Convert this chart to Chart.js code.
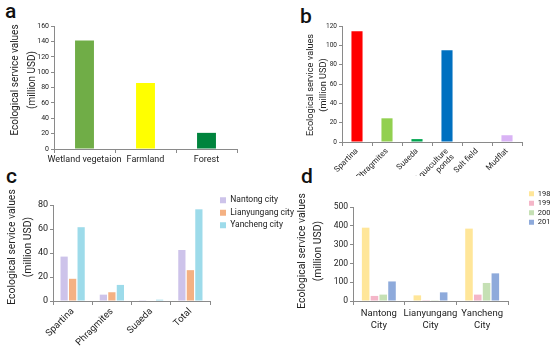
<!DOCTYPE html>
<html>
<head>
<meta charset="utf-8">
<script src="https://cdn.jsdelivr.net/npm/chart.js@4.4.0/dist/chart.umd.min.js"></script>
<style>
    body { margin: 0; background: #fff; width: 550px; height: 352px; overflow: hidden; position: relative; }
    canvas { position: absolute; }
    .tag { position: absolute; font: 500 21px Roboto, sans-serif; line-height: 21px; color: #111; }
    .ytitle {
        position: absolute; width: 160px; text-align: center; color: #222;
        font-family: Roboto, sans-serif; white-space: nowrap;
        transform: rotate(-90deg); transform-origin: 50% 50%;
    }
</style>
</head>
<body>
<div class="tag" style="left:5px;top:1px">a</div>
<div class="tag" style="left:300px;top:6px">b</div>
<div class="tag" style="left:6px;top:166px">c</div>
<div class="tag" style="left:301px;top:166px">d</div>

<canvas id="chartA" width="275" height="176" style="left:0;top:0"></canvas>
<canvas id="chartB" width="275" height="200" style="left:275px;top:0"></canvas>
<canvas id="chartC" width="300" height="176" style="left:0;top:176px"></canvas>
<canvas id="chartD" width="275" height="176" style="left:275px;top:176px"></canvas>

<!-- y axis titles: box is 160 wide, centred on the wanted point -->
<div class="ytitle" style="left:-57.5px;top:63px;font-size:10px;line-height:17px">Ecological service values<br>(million USD)</div>
<div class="ytitle" style="left:235.5px;top:72px;font-size:9.2px;line-height:13px">Ecological service values<br>(million USD)</div>
<div class="ytitle" style="left:-60px;top:230.5px;font-size:10.4px;line-height:16px">Ecological service values<br>(million USD)</div>
<div class="ytitle" style="left:230px;top:234.5px;font-size:10.4px;line-height:16px">Ecological service values<br>(million USD)</div>

<script>
// a - land use types
const landLabels = ["Wetland vegetaion", "Farmland", "Forest"];
const landValues = [141, 86, 21];
const landColors = ["#70ad47", "#ffff00", "#00843d"];

// b - wetland types
const typeLabels = ["Spartina", "Phragmites", "Suaeda", ["Aquaculture", "ponds"], "Salt field", "Mudflat"];
const typeValues = [114.5, 24.5, 3, 95, 0, 7];
const typeColors = ["#ff0000", "#92d050", "#00a550", "#0070c0", "#a6a6a6", "#d9b3f5"];

// c - vegetation by city
const vegLabels = ["Spartina", "Phragmites", "Suaeda", "Total"];
const cityNames = ["Nantong city", "Lianyungang city", "Yancheng city"];
const nantongVeg = [37, 5.3, 0.2, 42.5];
const lianyungangVeg = [18.5, 7.3, 0.4, 25.7];
const yanchengVeg = [61.5, 13.4, 1.1, 76.4];
const cityColors = ["#cdc3ea", "#f4b183", "#9ddbea"];

// d - cities through the years
const cityLabels = [["Nantong", "City"], ["Lianyungang", "City"], ["Yancheng", "City"]];
const years = ["1987", "1997", "2006", "2018"];
const esv1987 = [390, 30, 385];
const esv1997 = [27, 1, 34];
const esv2006 = [34, 4, 96];
const esv2018 = [104, 46, 147];
const yearColors = ["#ffe699", "#f4b6c8", "#c5e0b4", "#8eaadb"];

const AXIS = "#8a8a8a";
const TXT = "#222";
const FONT = "Roboto, sans-serif";

// legend takes no room, we put it where we want it
const placeLegend = {
    id: "placeLegend",
    beforeInit(chart, args, opts) {
        if (!chart.legend || opts.left == null) return;
        const lg = chart.legend;
        const fit = lg.fit;
        lg.fit = function () { fit.call(this); this.width = 0; };
    },
    afterLayout(chart, args, opts) {
        if (!chart.legend || opts.left == null) return;
        const lg = chart.legend;
        lg.left = opts.left;
        lg.top = opts.top;
        lg.right = chart.width;
        lg.bottom = chart.height;
        lg.width = lg.right - lg.left;
        lg.height = lg.bottom - lg.top;
    }
};

function makeChart(id, labels, datasets, o) {
    return new Chart(document.getElementById(id), {
        type: "bar",
        data: { labels: labels, datasets: datasets },
        options: {
            responsive: false,
            animation: false,
            layout: { padding: o.pad },
            plugins: {
                tooltip: { enabled: false },
                legend: o.legend ? {
                    display: true,
                    position: "right",
                    align: "start",
                    labels: {
                        boxWidth: o.legend.box, boxHeight: o.legend.box, padding: o.legend.gap,
                        color: TXT, font: { family: FONT, size: o.legend.size }
                    }
                } : { display: false },
                placeLegend: o.legend ? { left: o.legend.left, top: o.legend.top } : {}
            },
            scales: {
                x: {
                    grid: { drawOnChartArea: false, tickLength: 4, color: AXIS },
                    border: { color: AXIS },
                    ticks: {
                        color: TXT, font: { family: FONT, size: o.xSize, lineHeight: o.xLH || 1.2 },
                        padding: o.xPad, autoSkip: false,
                        maxRotation: o.rot, minRotation: o.rot
                    },
                    afterFit: s => { s.height = o.xH; }
                },
                y: {
                    min: 0, max: o.max,
                    grid: { drawOnChartArea: false, tickLength: 3, color: AXIS },
                    border: { color: AXIS },
                    ticks: { stepSize: o.step, color: TXT, font: { family: FONT, size: o.ySize }, padding: 2 },
                    afterFit: s => { s.width = o.yW; }
                }
            }
        },
        plugins: [placeLegend]
    });
}

// a
makeChart("chartA", landLabels, [{
    data: landValues, backgroundColor: landColors, borderWidth: 0,
    barPercentage: 0.31, categoryPercentage: 1
}], {
    pad: { left: 14, top: 26, right: 38, bottom: 0 },
    yW: 40, xH: 27, max: 160, step: 20,
    ySize: 7, xSize: 9, xPad: 1, rot: 0
});

// b
makeChart("chartB", typeLabels, [{
    data: typeValues, backgroundColor: typeColors, borderWidth: 0,
    barPercentage: 0.37, categoryPercentage: 1
}], {
    pad: { left: 40, top: 26, right: 28, bottom: 24 },
    yW: 27, xH: 34, max: 120, step: 20,
    ySize: 6.5, xSize: 8, xLH: 1.05, xPad: 1, rot: 45
});

// c
makeChart("chartC", vegLabels, [
    { label: cityNames[0], data: nantongVeg, backgroundColor: cityColors[0], borderWidth: 0 },
    { label: cityNames[1], data: lianyungangVeg, backgroundColor: cityColors[1], borderWidth: 0 },
    { label: cityNames[2], data: yanchengVeg, backgroundColor: cityColors[2], borderWidth: 0 }
].map(d => Object.assign(d, { barPercentage: 0.85, categoryPercentage: 0.65 })), {
    pad: { left: 28, top: 29, right: 90, bottom: 0 },
    yW: 25, xH: 51, max: 80, step: 20,
    ySize: 9, xSize: 9.5, xPad: 1, rot: 45,
    legend: { left: 216, top: 16, gap: 4, size: 8.5, box: 6 }
});

// d
makeChart("chartD", cityLabels, years.map((y, i) => ({
    label: y,
    data: [esv1987, esv1997, esv2006, esv2018][i],
    backgroundColor: yearColors[i], borderWidth: 0,
    barPercentage: 0.86, categoryPercentage: 0.68
})), {
    pad: { left: 45, top: 31, right: 42, bottom: 0 },
    yW: 33, xH: 51, max: 500, step: 100,
    ySize: 8.5, xSize: 9.5, xLH: "12px", xPad: 3, rot: 0,
    legend: { left: 252, top: 12, gap: 2, size: 7.5, box: 5 }
});
</script>
</body>
</html>
